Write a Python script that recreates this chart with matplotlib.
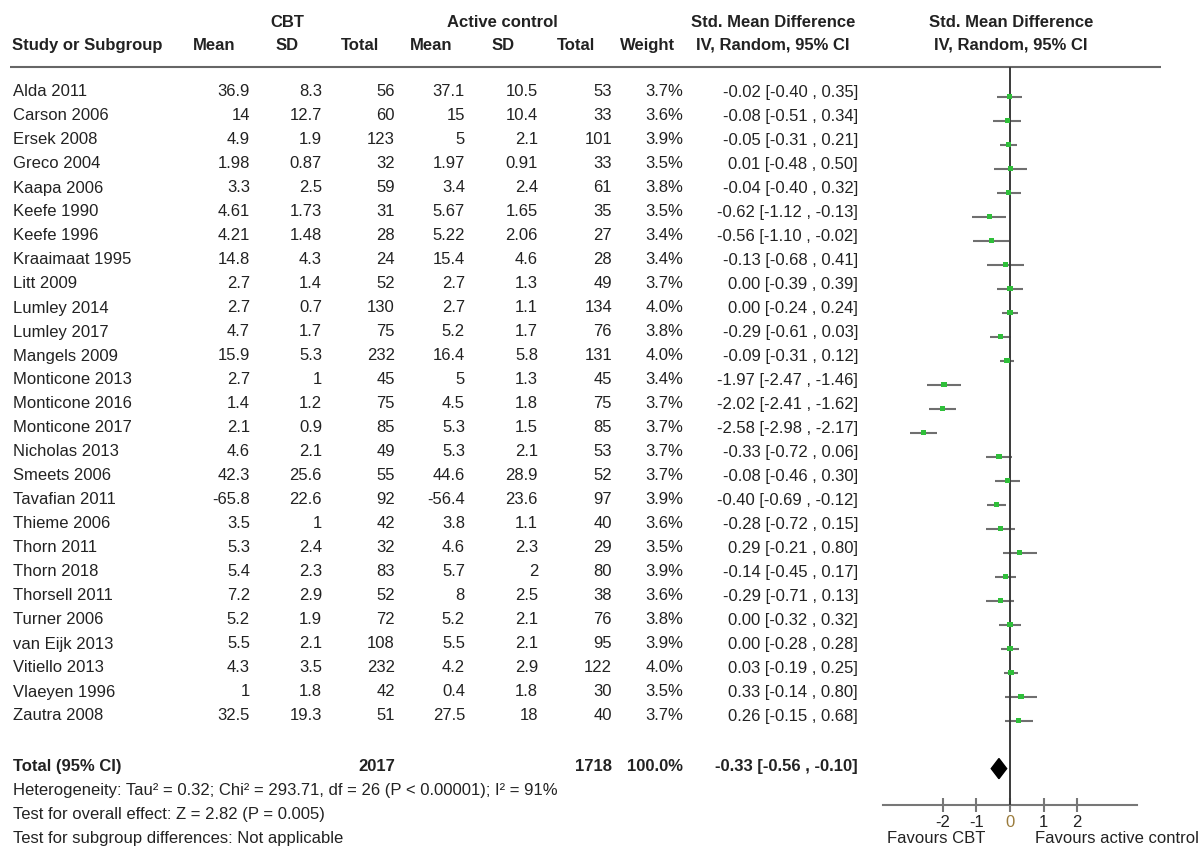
import numpy as np
import matplotlib.pyplot as plt

plt.rcParams['font.family'] = ['Liberation Sans', 'DejaVu Sans']
plt.rcParams['axes.unicode_minus'] = False

# ============== data ==============
studies = ["Alda 2011", "Carson 2006", "Ersek 2008", "Greco 2004", "Kaapa 2006",
           "Keefe 1990", "Keefe 1996", "Kraaimaat 1995", "Litt 2009", "Lumley 2014",
           "Lumley 2017", "Mangels 2009", "Monticone 2013", "Monticone 2016",
           "Monticone 2017", "Nicholas 2013", "Smeets 2006", "Tavafian 2011",
           "Thieme 2006", "Thorn 2011", "Thorn 2018", "Thorsell 2011", "Turner 2006",
           "van Eijk 2013", "Vitiello 2013", "Vlaeyen 1996", "Zautra 2008"]
cbt_mean = [36.9, 14, 4.9, 1.98, 3.3, 4.61, 4.21, 14.8, 2.7, 2.7, 4.7, 15.9, 2.7, 1.4,
            2.1, 4.6, 42.3, -65.8, 3.5, 5.3, 5.4, 7.2, 5.2, 5.5, 4.3, 1, 32.5]
cbt_sd = [8.3, 12.7, 1.9, 0.87, 2.5, 1.73, 1.48, 4.3, 1.4, 0.7, 1.7, 5.3, 1, 1.2,
          0.9, 2.1, 25.6, 22.6, 1, 2.4, 2.3, 2.9, 1.9, 2.1, 3.5, 1.8, 19.3]
cbt_n = [56, 60, 123, 32, 59, 31, 28, 24, 52, 130, 75, 232, 45, 75, 85, 49, 55, 92,
         42, 32, 83, 52, 72, 108, 232, 42, 51]
ctl_mean = [37.1, 15, 5, 1.97, 3.4, 5.67, 5.22, 15.4, 2.7, 2.7, 5.2, 16.4, 5, 4.5,
            5.3, 5.3, 44.6, -56.4, 3.8, 4.6, 5.7, 8, 5.2, 5.5, 4.2, 0.4, 27.5]
ctl_sd = [10.5, 10.4, 2.1, 0.91, 2.4, 1.65, 2.06, 4.6, 1.3, 1.1, 1.7, 5.8, 1.3, 1.8,
          1.5, 2.1, 28.9, 23.6, 1.1, 2.3, 2, 2.5, 2.1, 2.1, 2.9, 1.8, 18]
ctl_n = [53, 33, 101, 33, 61, 35, 27, 28, 49, 134, 76, 131, 45, 75, 85, 53, 52, 97,
         40, 29, 80, 38, 76, 95, 122, 30, 40]
weight = [3.7, 3.6, 3.9, 3.5, 3.8, 3.5, 3.4, 3.4, 3.7, 4.0, 3.8, 4.0, 3.4, 3.7, 3.7,
          3.7, 3.7, 3.9, 3.6, 3.5, 3.9, 3.6, 3.8, 3.9, 4.0, 3.5, 3.7]
smd = [-0.02, -0.08, -0.05, 0.01, -0.04, -0.62, -0.56, -0.13, 0.00, 0.00, -0.29, -0.09,
       -1.97, -2.02, -2.58, -0.33, -0.08, -0.40, -0.28, 0.29, -0.14, -0.29, 0.00, 0.00,
       0.03, 0.33, 0.26]
ci_lo = [-0.40, -0.51, -0.31, -0.48, -0.40, -1.12, -1.10, -0.68, -0.39, -0.24, -0.61,
         -0.31, -2.47, -2.41, -2.98, -0.72, -0.46, -0.69, -0.72, -0.21, -0.45, -0.71,
         -0.32, -0.28, -0.19, -0.14, -0.15]
ci_hi = [0.35, 0.34, 0.21, 0.50, 0.32, -0.13, -0.02, 0.41, 0.39, 0.24, 0.03, 0.12,
         -1.46, -1.62, -2.17, 0.06, 0.30, -0.12, 0.15, 0.80, 0.17, 0.13, 0.32, 0.28,
         0.25, 0.80, 0.68]

total_cbt = 2017
total_ctl = 1718
total_smd, total_lo, total_hi = -0.33, -0.56, -0.10
x_ticks = [-2, -1, 0, 1, 2]

TXT = '#222222'
FS = 12
W, H = 1201, 846

fig = plt.figure(figsize=(W / 100, H / 100), dpi=100)

# overlay axes in pixel units for the table text
ax0 = fig.add_axes([0, 0, 1, 1])
ax0.set_xlim(0, W)
ax0.set_ylim(H, 0)
ax0.axis('off')


def put(x, y, s, ha='right', bold=False, color=TXT):
    ax0.text(x, y, s, ha=ha, va='baseline', fontsize=FS, color=color,
             fontweight='bold' if bold else 'normal')


# headers
put(287, 27, "CBT", ha='center', bold=True)
put(502.5, 27, "Active control", ha='center', bold=True)
put(773, 27, "Std. Mean Difference", ha='center', bold=True)
put(1011, 27, "Std. Mean Difference", ha='center', bold=True)
put(12, 50, "Study or Subgroup", ha='left', bold=True)
for xc, lab in zip([214.5, 287.5, 360, 431, 503, 576, 647.5, 772.5],
                   ["Mean", "SD", "Total", "Mean", "SD", "Total", "Weight",
                    "IV, Random, 95% CI"]):
    put(xc, 50, lab, ha='center', bold=True)
put(1011, 50, "IV, Random, 95% CI", ha='center', bold=True)
ax0.plot([10, 1161], [67, 67], color='#666666', lw=1.5, solid_capstyle='butt')

# table rows
cols = [250, 322, 395, 465, 538, 612, 683, 858]
for i, name in enumerate(studies):
    yb = 96.5 + 24 * i
    put(13, yb, name, ha='left')
    vals = [f"{cbt_mean[i]:g}", f"{cbt_sd[i]:g}", str(cbt_n[i]),
            f"{ctl_mean[i]:g}", f"{ctl_sd[i]:g}", str(ctl_n[i]),
            f"{weight[i]:.1f}%",
            f"{smd[i]:.2f} [{ci_lo[i]:.2f} , {ci_hi[i]:.2f}]"]
    for xr, v in zip(cols, vals):
        put(xr, yb, v)

# totals and footnotes
put(13, 771, "Total (95% CI)", ha='left', bold=True)
put(395, 771, str(total_cbt), bold=True)
put(612, 771, str(total_ctl), bold=True)
put(683, 771, "100.0%", bold=True)
put(858, 771, f"{total_smd:.2f} [{total_lo:.2f} , {total_hi:.2f}]", bold=True)
put(13, 795, "Heterogeneity: Tau² = 0.32; Chi² = 293.71, df = 26 (P < 0.00001); I² = 91%", ha='left')
put(13, 819, "Test for overall effect: Z = 2.82 (P = 0.005)", ha='left')
put(13, 843, "Test for subgroup differences: Not applicable", ha='left')
put(887, 843, "Favours CBT", ha='left')
put(1035, 843, "Favours active control", ha='left')

# ============== forest panel ==============
px_unit = 33.5
x0_px = 1010
xmin, xmax = -3.8, 3.8
top_px, bot_px = 67, 805
ax = fig.add_axes([(x0_px + xmin * px_unit) / W, 1 - bot_px / H,
                   (xmax - xmin) * px_unit / W, (bot_px - top_px) / H])
ax.set_xlim(xmin, xmax)
ax.set_ylim((bot_px - 96.6) / 24, (top_px - 96.6) / 24)
ax.patch.set_alpha(0)
for s in ['top', 'left', 'right']:
    ax.spines[s].set_visible(False)
ax.spines['bottom'].set_color('#777777')
ax.spines['bottom'].set_linewidth(1.5)
ax.set_yticks([])
ax.set_xticks(x_ticks)
ax.set_xticklabels([str(t) for t in x_ticks])
ax.tick_params(axis='x', direction='inout', length=10, width=1.5, color='#777777',
               labelsize=FS, labelcolor=TXT, pad=2)
ax.get_xticklabels()[2].set_color('#9a7b3c')

rows = np.arange(len(studies))
ax.hlines(rows, ci_lo, ci_hi, color='#6f6f6f', lw=1.5, zorder=2)
ax.axvline(0, color='#3a3a3a', lw=1.4, zorder=3)
ax.scatter(smd, rows, marker='s', s=14, color='#2fbf3a', edgecolors='none', zorder=4)

ty = 28
dh = 0.42
ax.fill([total_lo, total_smd, total_hi, total_smd], [ty, ty - dh, ty, ty + dh],
        color='black', zorder=5)

fig.savefig("out.png", dpi=100)
